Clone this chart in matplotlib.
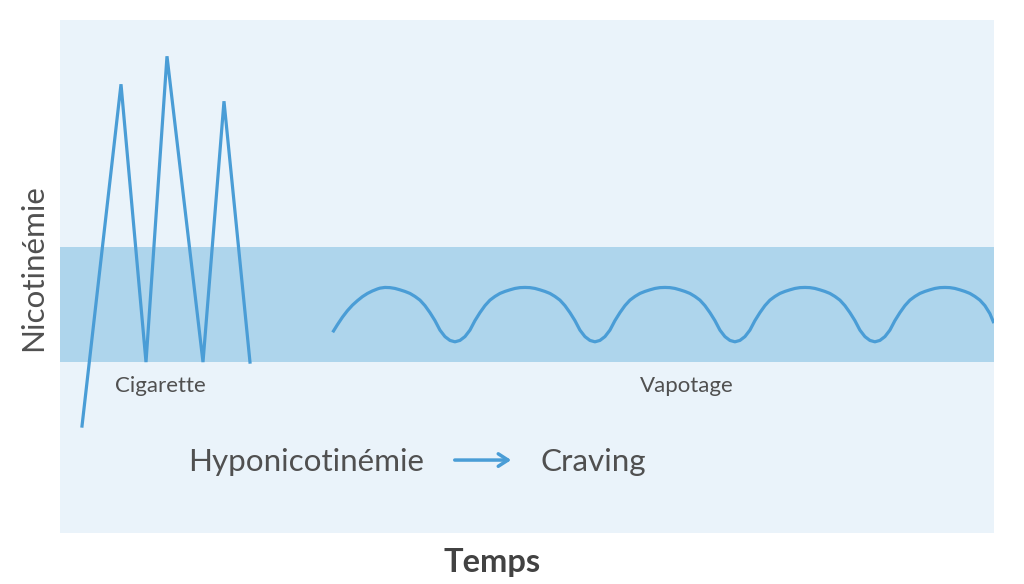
import matplotlib.pyplot as plt

plt.rcParams['font.family'] = ['Lato', 'DejaVu Sans']

# zone de nicotinémie "confort"
band_low, band_high = 17.1, 28.6

# cigarette : pics successifs
cig_t = [2.2, 6.1, 8.6, 10.7, 14.3, 16.4, 19.0]
cig_y = [10.7, 44.9, 17.1, 47.7, 17.1, 43.2, 17.1]

# vapotage : ondulation
vap_t = [27.27, 27.75, 28.25, 28.75, 29.25, 29.75, 30.25, 30.75, 31.25, 31.75, 32.0, 32.5,
         33.0, 33.5, 34.0, 34.5, 35.0, 35.5, 36.0, 36.5, 37.0, 37.5, 38.0, 38.5, 39.0, 39.5,
         40.0, 40.5, 41.0, 41.5, 42.0, 42.5, 43.0, 43.5, 44.0, 44.5, 45.0, 45.5, 46.0, 46.5,
         47.0, 47.5, 48.0, 48.5, 49.0, 49.5, 50.0, 50.5, 51.0, 51.5, 52.0, 52.5, 53.0, 53.5,
         54.0, 54.5, 55.0, 55.5, 56.0, 56.5, 57.0, 57.5, 58.0, 58.5, 59.0, 59.5, 60.0, 60.5,
         61.0, 61.5, 62.0, 62.5, 63.0, 63.5, 64.0, 64.5, 65.0, 65.5, 66.0, 66.5, 67.0, 67.5,
         68.0, 68.5, 69.0, 69.5, 70.0, 70.5, 71.0, 71.5, 72.0, 72.5, 73.0, 73.5, 74.0, 74.5,
         75.0, 75.5, 76.0, 76.5, 77.0, 77.5, 78.0, 78.5, 79.0, 79.5, 80.0, 80.5, 81.0, 81.5,
         82.0, 82.5, 83.0, 83.5, 84.0, 84.5, 85.0, 85.5, 86.0, 86.5, 87.0, 87.5, 88.0, 88.5,
         89.0, 89.5, 90.0, 90.5, 91.0, 91.5, 92.0, 92.5, 93.0, 93.4]
vap_y = [20.08, 20.85, 21.6, 22.25, 22.8, 23.25, 23.65, 23.97, 24.22, 24.42, 24.5, 24.57,
         24.55, 24.47, 24.33, 24.17, 23.97, 23.67, 23.3, 22.75, 22.05, 21.25, 20.3, 19.65, 19.27, 19.13,
         19.27, 19.65, 20.3, 21.25, 22.05, 22.75, 23.3, 23.67, 23.97, 24.17, 24.33, 24.47, 24.55, 24.57,
         24.55, 24.47, 24.33, 24.17, 23.97, 23.67, 23.3, 22.75, 22.05, 21.25, 20.3, 19.65, 19.27, 19.13,
         19.27, 19.65, 20.3, 21.25, 22.05, 22.75, 23.3, 23.67, 23.97, 24.17, 24.33, 24.47, 24.55, 24.57,
         24.55, 24.47, 24.33, 24.17, 23.97, 23.67, 23.3, 22.75, 22.05, 21.25, 20.3, 19.65, 19.27, 19.13,
         19.27, 19.65, 20.3, 21.25, 22.05, 22.75, 23.3, 23.67, 23.97, 24.17, 24.33, 24.47, 24.55, 24.57,
         24.55, 24.47, 24.33, 24.17, 23.97, 23.67, 23.3, 22.75, 22.05, 21.25, 20.3, 19.65, 19.27, 19.13,
         19.27, 19.65, 20.3, 21.25, 22.05, 22.75, 23.3, 23.67, 23.97, 24.17, 24.33, 24.47, 24.55, 24.57,
         24.55, 24.47, 24.33, 24.17, 23.97, 23.67, 23.3, 22.75, 21.95, 21.0]

blue = '#4a9dd6'
grey = '#505050'

fig = plt.figure(figsize=(10.24, 5.84), dpi=100)
ax = fig.add_axes([0.0586, 0.0873, 0.912, 0.878])
ax.set_facecolor('#eaf3fa')
ax.set_xlim(0, 93.4)
ax.set_ylim(0, 51.3)
for s in ax.spines.values():
    s.set_visible(False)
ax.set_xticks([])
ax.set_yticks([])

ax.axhspan(band_low, band_high, color='#aed5ec', lw=0)

ax.plot(cig_t, cig_y, color=blue, lw=2.3, solid_joinstyle='miter')
ax.plot(vap_t, vap_y, color=blue, lw=2.3, solid_capstyle='butt', solid_joinstyle='round')

ax.text(10.0, 14.7, 'Cigarette', fontsize=16, color=grey, ha='center', va='center')
ax.text(62.7, 14.7, 'Vapotage', fontsize=16, color=grey, ha='center', va='center')

ax.text(12.8, 7.1, 'Hyponicotinémie', fontsize=22.6, color=grey, ha='left', va='center')
ax.annotate('', xy=(45.4, 7.3), xytext=(39.2, 7.3),
            arrowprops=dict(arrowstyle='->,head_length=0.7,head_width=0.45', color=blue, lw=2.5))
ax.text(48.1, 7.1, 'Craving', fontsize=22.6, color=grey, ha='left', va='center')

fig.text(0.032, 0.541, 'Nicotinémie', fontsize=22.6, color=grey, rotation=90, ha='center', va='center')
fig.text(0.481, 0.036, 'Temps', fontsize=23.5, color='#424242', fontweight='bold', ha='center', va='center')

fig.savefig('out.png', dpi=100)
